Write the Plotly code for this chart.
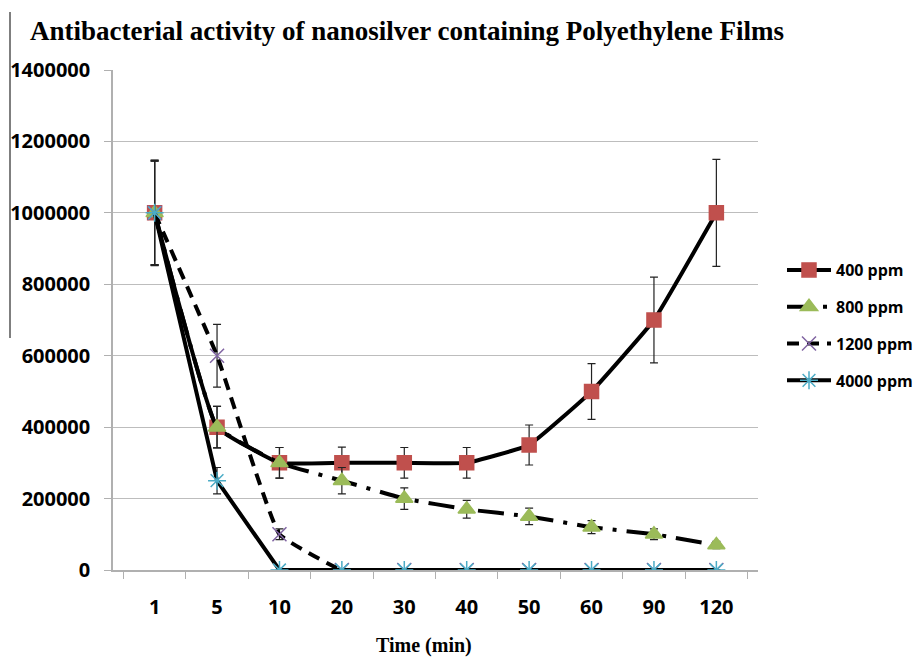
import plotly.graph_objects as go

times = ["1", "5", "10", "20", "30", "40", "50", "60", "90", "120"]

ppm400 = [1000000, 400000, 300000, 300000, 300000, 300000, 350000, 500000, 700000, 1000000]
ppm400_err = [147000, 58000, 43000, 44000, 43000, 43000, 56000, 78000, 120000, 150000]

ppm800 = [1000000, 400000, 300000, 250000, 200000, 170000, 150000, 120000, 100000, 70000]
ppm800_err = [145000, 58000, 43000, 37000, 30000, 25000, 23000, 18000, 15000, 10000]

ppm1200 = [1000000, 600000, 100000, 0, 0, 0, 0, 0, 0, 0]
ppm1200_err = [145000, 88000, 15000, 0, 0, 0, 0, 0, 0, 0]

ppm4000 = [1000000, 250000, 0, 0, 0, 0, 0, 0, 0, 0]
ppm4000_err = [148000, 37000, 0, 0, 0, 0, 0, 0, 0, 0]

series = [
    ("400 ppm", ppm400, ppm400_err, "#C0504D", "square", 14, "solid", "spline"),
    ("800 ppm", ppm800, ppm800_err, "#9BBB59", "triangle-up", 15, "26px,10px,4px,10px", "spline"),
    ("1200 ppm", ppm1200, ppm1200_err, "#8064A2", "x-thin-open", 14, "12px,8px", "spline"),
    ("4000 ppm", ppm4000, ppm4000_err, "#4BACC6", "asterisk-open", 15, "solid", "linear"),
]

# the page body has an 8px margin, so the figure is drawn 8px in from the corner
OFF = 8
W, H = 921 - OFF, 658 - OFF
L, T = 113 - OFF, 70 - OFF
PW, PH = 645, 500

fig = go.Figure()
for i, (name, vals, errs, color, sym, size, dash, shape) in enumerate(series):
    fig.add_trace(go.Scatter(
        x=times, y=vals, name=name, mode="lines+markers",
        legendgroup=name,
        line=dict(color="black", width=4, dash=dash, shape=shape, smoothing=0.3),
        marker=dict(symbol=sym, color=color, size=size,
                    line=dict(color=color, width=1.5)),
        error_y=dict(type="data", array=errs, visible=True,
                     color="#222222", thickness=1.2, width=4),
    ))

fig.update_layout(
    width=W, height=H,
    margin=dict(l=L, r=W - L - PW, t=T, b=H - T - PH, autoexpand=False),
    paper_bgcolor="white", plot_bgcolor="white",
    title=dict(
        text="<b>Antibacterial activity of nanosilver containing Polyethylene Films</b>",
        font=dict(family="Liberation Serif", size=27, color="black"),
        x=(30 - OFF) / W, xanchor="left", y=1 - (31 - OFF) / H, yanchor="middle",
        automargin=False,
    ),
    legend=dict(
        x=1.0 + 24 / PW, xanchor="left", y=(570 - 253) / PH, yanchor="top",
        font=dict(family="Open Sans", size=16, color="black", weight="bold"),
        tracegroupgap=13, itemwidth=44, bgcolor="rgba(0,0,0,0)",
    ),
    showlegend=True,
    shapes=[dict(type="line", xref="paper", yref="paper",
                 x0=(10 - 113) / PW, x1=(10 - 113) / PW,
                 y0=(570 - 12) / PH, y1=(570 - 338) / PH,
                 line=dict(color="#555555", width=1.5))],
    annotations=[dict(text="<b>Time (min)</b>", xref="paper", yref="paper",
                      x=(424 - 113) / PW, y=(570 - 645) / PH,
                      xanchor="center", yanchor="middle", showarrow=False,
                      font=dict(family="Liberation Serif", size=20, color="black"))],
)

fig.update_xaxes(
    type="category", categoryorder="array", categoryarray=times,
    showline=True, linecolor="#B0B0B0", linewidth=1.5,
    ticks="outside", tickson="boundaries", ticklen=7, tickcolor="#B0B0B0",
    showgrid=False, automargin=False,
    tickfont=dict(family="Open Sans", size=20, color="black", weight="bold"),
    ticklabelstandoff=18,
)
fig.update_yaxes(
    range=[0, 1400000], dtick=200000, tickformat="d",
    showline=True, linecolor="#B0B0B0", linewidth=1.5,
    ticks="outside", ticklen=7, tickcolor="#B0B0B0",
    showgrid=True, gridcolor="#BDBDBD", gridwidth=1.2,
    zeroline=False, automargin=False,
    tickfont=dict(family="Open Sans", size=20, color="black", weight="bold"),
    ticklabelstandoff=10,
)

fig.write_html("out.html")
